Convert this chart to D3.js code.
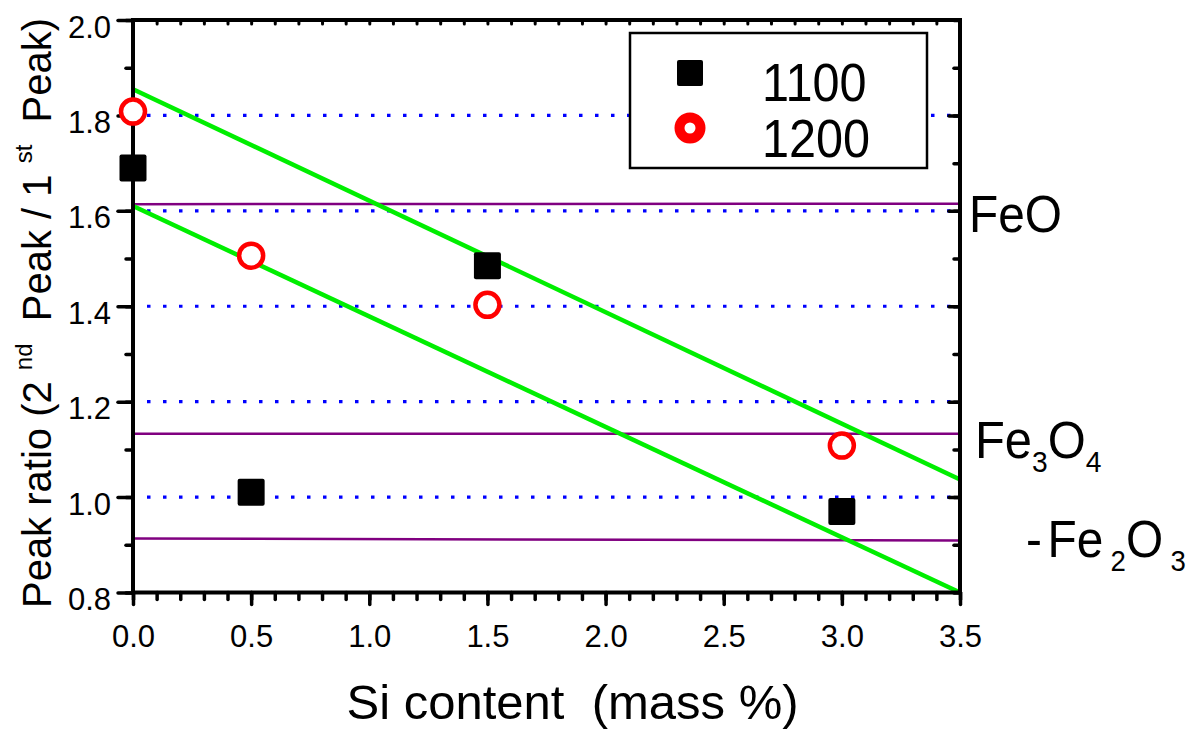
<!DOCTYPE html>
<html>
<head>
<meta charset="utf-8">
<script src="https://cdn.jsdelivr.net/npm/d3@7"></script>
<style>
  html, body { margin: 0; padding: 0; background: #fff; }
  svg { display: block; font-family: "Liberation Sans", Arial, Helvetica, sans-serif; }
</style>
</head>
<body>
<svg id="chart" width="1198" height="729"></svg>
<script>
// Si content of the samples (mass %)
const siContent = [0, 0.5, 1.5, 3.0];
// Peak ratio measured after oxidation at each temperature
const ratio1100 = [1.69, 1.01, 1.485, 0.97];
const ratio1200 = [1.808, 1.506, 1.403, 1.108];
const seriesNames = ["1100", "1200"];

// Reference peak ratios of the iron oxide phases (start / end level)
const phaseNames = ["FeO", "Fe3O4", "-Fe2O3"];
const phaseStart = [1.614, 1.133, 0.913];
const phaseEnd = [1.615, 1.133, 0.909];

// Two guide lines bounding the data band: [x0, y0, x1, y1]
const upperBand = [0, 1.855, 3.5, 1.037];
const lowerBand = [0, 1.610, 3.5, 0.800];

// Dotted reference levels
const gridLevels = [1.0, 1.2, 1.4, 1.6, 1.8];

// Axis ticks
const xMajorTicks = [0, 0.5, 1.0, 1.5, 2.0, 2.5, 3.0, 3.5];
const xMinorTicks = d3.range(0, 36).map(i => i / 10);
const yMajorTicks = [0.8, 1.0, 1.2, 1.4, 1.6, 1.8, 2.0];
const yMinorTicks = d3.range(8, 21).map(i => i / 10);

const svg = d3.select("#chart");
const plotL = 133, plotR = 960, plotT = 20, plotB = 592.5;

const x = d3.scaleLinear().domain([0, 3.5]).range([plotL, plotR]);
const y = d3.scaleLinear().domain([0.8, 2.0]).range([plotB, plotT]);

// dotted levels
svg.append("g").selectAll("line").data(gridLevels).join("line")
  .attr("x1", x(0) + 14).attr("x2", x(3.5) - 6)
  .attr("y1", d => y(d)).attr("y2", d => y(d))
  .attr("stroke", "#0000ff").attr("stroke-width", 3.2)
  .attr("stroke-dasharray", "3.5 12.5");

// phase reference lines
svg.append("g").selectAll("line").data(phaseNames).join("line")
  .attr("x1", x(0)).attr("x2", x(3.5))
  .attr("y1", (d, i) => y(phaseStart[i])).attr("y2", (d, i) => y(phaseEnd[i]))
  .attr("stroke", "#800080").attr("stroke-width", 2.5);

// band lines
svg.append("g").selectAll("line").data([upperBand, lowerBand]).join("line")
  .attr("x1", d => x(d[0])).attr("y1", d => y(d[1]))
  .attr("x2", d => x(d[2])).attr("y2", d => y(d[3]))
  .attr("stroke", "#00ee00").attr("stroke-width", 4.5);

// axes
function styleAxis(g, width) {
  g.select(".domain").remove();
  g.selectAll(".tick line").attr("stroke", "#000").attr("stroke-width", width).attr("stroke-linecap", "round");
  g.selectAll(".tick text").attr("fill", "#000").attr("font-size", 31)
    .attr("font-family", "'Liberation Sans', Arial, sans-serif");
}

// bottom: minor + major
svg.append("g").attr("transform", `translate(0,${plotB})`)
  .call(d3.axisBottom(x).tickValues(xMinorTicks).tickSize(7).tickFormat(""))
  .call(g => styleAxis(g, 3.5));
svg.append("g").attr("transform", `translate(0,${plotB})`)
  .call(d3.axisBottom(x).tickValues(xMajorTicks).tickSize(12).tickPadding(20).tickFormat(d3.format(".1f")))
  .call(g => styleAxis(g, 3.5));

// top: small inward ticks
svg.append("g").attr("transform", `translate(0,${plotT})`)
  .call(d3.axisBottom(x).tickValues(xMinorTicks).tickSize(4).tickFormat(""))
  .call(g => styleAxis(g, 3));

// left: minor + major
svg.append("g").attr("transform", `translate(${plotL},0)`)
  .call(d3.axisLeft(y).tickValues(yMinorTicks).tickSize(7).tickFormat(""))
  .call(g => styleAxis(g, 3.5));
svg.append("g").attr("transform", `translate(${plotL},0)`)
  .call(d3.axisLeft(y).tickValues(yMajorTicks).tickSize(15).tickPadding(7).tickFormat(d3.format(".1f")))
  .call(g => {
    styleAxis(g, 3.5);
    g.selectAll(".tick text").attr("dy", "0.55em");
  });

// right: inward ticks
svg.append("g").attr("transform", `translate(${plotR},0)`)
  .call(d3.axisLeft(y).tickValues(yMinorTicks).tickSize(6).tickFormat(""))
  .call(g => styleAxis(g, 3.5));
svg.append("g").attr("transform", `translate(${plotR},0)`)
  .call(d3.axisLeft(y).tickValues(yMajorTicks.slice(1, -1)).tickSize(11).tickFormat(""))
  .call(g => styleAxis(g, 3.5));

// frame
svg.append("path")
  .attr("d", `M${plotL},${plotT}H${plotR}V${plotB}H${plotL}Z`)
  .attr("fill", "none").attr("stroke", "#000").attr("stroke-width", 4);

// data: 1200 open circles, 1100 filled squares
svg.append("g").selectAll("circle").data(siContent).join("circle")
  .attr("cx", d => x(d)).attr("cy", (d, i) => y(ratio1200[i]))
  .attr("r", 12).attr("fill", "#fff").attr("stroke", "#ff0000").attr("stroke-width", 4.5);

const sq = 27;
svg.append("g").selectAll("rect").data(siContent).join("rect")
  .attr("x", d => x(d) - sq / 2).attr("y", (d, i) => y(ratio1100[i]) - sq / 2)
  .attr("width", sq).attr("height", sq).attr("rx", 2).attr("fill", "#000");

// legend
const lg = svg.append("g");
lg.append("rect").attr("x", 630).attr("y", 33).attr("width", 297).attr("height", 135)
  .attr("fill", "#fff").attr("stroke", "#000").attr("stroke-width", 2.5);
lg.append("rect").attr("x", 677).attr("y", 60).attr("width", 26).attr("height", 26).attr("rx", 2).attr("fill", "#000");
lg.append("circle").attr("cx", 690).attr("cy", 128).attr("r", 10.5)
  .attr("fill", "#fff").attr("stroke", "#ff0000").attr("stroke-width", 10);
lg.selectAll("text.lab").data(seriesNames).join("text")
  .attr("class", "lab")
  .attr("transform", (d, i) => `translate(762,${i === 0 ? 101 : 157}) scale(0.9,1)`)
  .attr("font-size", 54).attr("fill", "#000").text(d => d);

// phase labels on the right (chemical formulas with subscripts)
function chem(g, parts, size, subSize, drop) {
  const t = g.append("text").attr("font-size", size).attr("fill", "#000");
  parts.forEach(p => {
    const ts = t.append("tspan").attr("dx", p.dx || 0).text(p.t);
    if (p.sub) ts.attr("font-size", subSize).attr("dy", drop);
    else ts.attr("font-size", size).attr("dy", p.back ? -drop : 0);
  });
  return t;
}
const feo = svg.append("g").attr("transform", "translate(969,232) scale(0.92,1)");
chem(feo, [{t: phaseNames[0]}], 52, 30, 0);

const fe3o4 = svg.append("g").attr("transform", "translate(975,458) scale(0.94,1)");
chem(fe3o4, [{t: "Fe"}, {t: "3", sub: true}, {t: "O", back: true}, {t: "4", sub: true}], 52, 30, 14);

const fe2o3 = svg.append("g").attr("transform", "translate(1026,557) scale(0.92,1)");
chem(fe2o3, [{t: "-"}, {t: "Fe", dx: 6}, {t: "2", sub: true, dx: 8}, {t: "O", back: true}, {t: "3", sub: true, dx: 8}], 52, 30, 14);

// axis titles
svg.append("text")
  .attr("x", (plotL + plotR) / 2 + 26).attr("y", 719)
  .attr("text-anchor", "middle").attr("font-size", 49).attr("fill", "#000")
  .attr("xml:space", "preserve")
  .text("Si content  (mass %)");

const yt = svg.append("text")
  .attr("transform", "translate(51,313) rotate(-90)")
  .attr("text-anchor", "middle").attr("font-size", 40).attr("fill", "#000")
  .attr("xml:space", "preserve");
yt.append("tspan").text("Peak ratio (2 ");
yt.append("tspan").attr("font-size", 24).attr("dy", -19).text("nd");
yt.append("tspan").attr("dy", 19).text("  Peak / 1 ");
yt.append("tspan").attr("font-size", 24).attr("dy", -19).text("st");
yt.append("tspan").attr("dy", 19).text("  Peak)");
</script>
</body>
</html>
